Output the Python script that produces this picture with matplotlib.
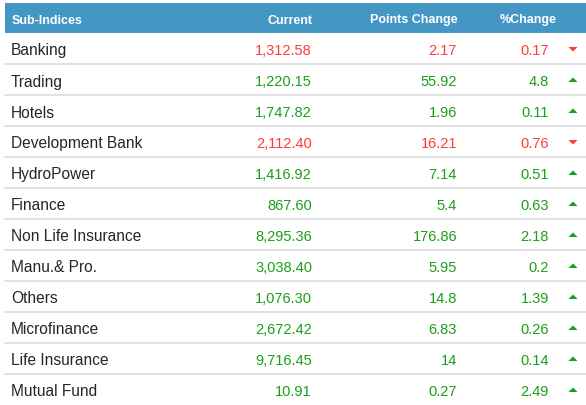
import matplotlib
matplotlib.use("Agg")
import matplotlib.pyplot as plt
import matplotlib.patches as patches

plt.rcParams['font.family'] = ['Liberation Sans', 'DejaVu Sans']

headers = ["Sub-Indices", "Current", "Points Change", "%Change"]
names = ["Banking", "Trading", "Hotels", "Development Bank", "HydroPower",
         "Finance", "Non Life Insurance", "Manu.& Pro.", "Others",
         "Microfinance", "Life Insurance", "Mutual Fund"]
current = ["1,312.58", "1,220.15", "1,747.82", "2,112.40", "1,416.92",
           "867.60", "8,295.36", "3,038.40", "1,076.30", "2,672.42",
           "9,716.45", "10.91"]
points = ["2.17", "55.92", "1.96", "16.21", "7.14", "5.4", "176.86",
          "5.95", "14.8", "6.83", "14", "0.27"]
pct = ["0.17", "4.8", "0.11", "0.76", "0.51", "0.63", "2.18", "0.2",
       "1.39", "0.26", "0.14", "2.49"]
up = [False, True, True, False, True, True, True, True, True, True, True, True]

W, H = 586, 406
HEAD_TOP, HEAD_BOT = 4, 34
ROW_H = 31
LEFT = 5
BLUE = "#4497c5"
RED = "#ff3b3b"
GREEN = "#1b9e1b"
NAME_TXT = "#262626"

fig = plt.figure(figsize=(W / 100, H / 100), dpi=100)
ax = fig.add_axes([0, 0, 1, 1])
ax.set_xlim(0, W)
ax.set_ylim(H, 0)
ax.axis("off")

# header band
ax.add_patch(patches.Rectangle((LEFT, HEAD_TOP), W - LEFT, HEAD_BOT - HEAD_TOP,
                               facecolor=BLUE, edgecolor="none"))
hy = (HEAD_TOP + HEAD_BOT) / 2 + 1.5
hdr = dict(color="white", fontsize=9, fontweight="bold", va="center")
ax.text(12, hy, headers[0], ha="left", **hdr)
ax.text(312, hy, headers[1], ha="right", **hdr)
ax.text(457, hy, headers[2], ha="right", **hdr)
ax.text(557, hy, headers[3], ha="right", **hdr)

for i, name in enumerate(names):
    top = HEAD_BOT + i * ROW_H
    cy = top + ROW_H / 2
    ty = cy + 1.5
    col = GREEN if up[i] else RED
    if i > 0:
        ax.plot([LEFT, W], [top, top], color="#dddddd", lw=1.2)
    ax.text(11, ty, name, color=NAME_TXT, fontsize=11.2, ha="left", va="center")
    ax.text(312, ty, current[i], color=col, fontsize=10.5, ha="right", va="center")
    ax.text(457, ty, points[i], color=col, fontsize=10.5, ha="right", va="center")
    ax.text(549, ty, pct[i], color=col, fontsize=10.5, ha="right", va="center")
    tx = 573
    if up[i]:
        tri = [(tx - 4.5, cy + 2.5), (tx + 4.5, cy + 2.5), (tx, cy - 2)]
    else:
        tri = [(tx - 4.5, cy - 1.5), (tx + 4.5, cy - 1.5), (tx, cy + 3)]
    ax.add_patch(patches.Polygon(tri, closed=True, facecolor=col, edgecolor="none"))

fig.savefig("out.png", dpi=100)
